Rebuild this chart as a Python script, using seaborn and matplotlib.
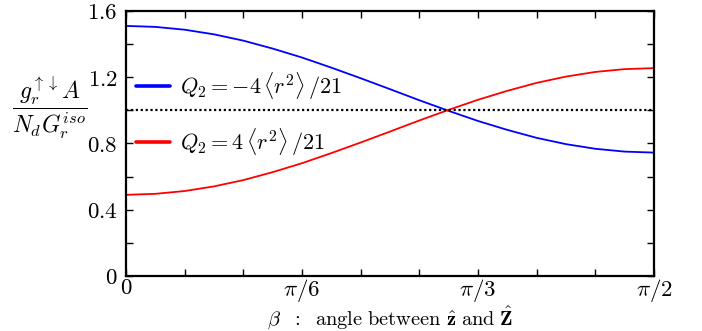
import matplotlib
matplotlib.use("Agg")
import matplotlib.pyplot as plt
import numpy as np
import pandas as pd
import seaborn as sns
from matplotlib.ticker import MultipleLocator

# beta in degrees
beta_deg = [0, 5, 10, 15, 20, 25, 30, 35, 40, 45, 50, 55, 60, 65, 70, 75, 80, 85, 90]
g_neg_q2 = [1.510, 1.504, 1.487, 1.459, 1.421, 1.373, 1.319, 1.258, 1.194, 1.128,
            1.061, 0.997, 0.936, 0.882, 0.834, 0.796, 0.768, 0.751, 0.745]
g_pos_q2 = [0.490, 0.496, 0.513, 0.541, 0.579, 0.627, 0.681, 0.742, 0.806, 0.872,
            0.939, 1.003, 1.064, 1.118, 1.166, 1.204, 1.232, 1.249, 1.255]
series_labels = [r"$Q_2=-4\,\langle r^2\rangle\,/21$", r"$Q_2=4\,\langle r^2\rangle\,/21$"]
series_colors = ["#0000ff", "#ff0000"]
x_tick_vals = [0, 30, 60, 90]
x_tick_labels = [r"$0$", r"$\pi/6$", r"$\pi/3$", r"$\pi/2$"]
y_tick_vals = [0, 0.4, 0.8, 1.2, 1.6]

sns.set_style("ticks")
plt.rcParams["mathtext.fontset"] = "cm"
plt.rcParams["font.family"] = ["DejaVu Serif"]
for key in ["text.color", "axes.labelcolor", "xtick.color", "ytick.color", "axes.edgecolor"]:
    plt.rcParams[key] = "black"

df = pd.DataFrame({
    "beta": beta_deg * 2,
    "g": g_neg_q2 + g_pos_q2,
    "series": [series_labels[0]] * len(beta_deg) + [series_labels[1]] * len(beta_deg),
})

fig = plt.figure(figsize=(7.02, 3.31), dpi=100)
ax = fig.add_axes([0.1795, 0.1662, 0.7521, 0.8006])

sns.lineplot(data=df, x="beta", y="g", hue="series", hue_order=series_labels,
             palette=series_colors, linewidth=1.3, ax=ax, legend=False)
ax.axhline(1.0, color="black", linestyle=(0, (1, 1.2)), linewidth=1.6)

ax.set_xlim(0, 90)
ax.set_ylim(0, 1.6)
ax.set_xticks(x_tick_vals)
ax.set_xticklabels(x_tick_labels)
ax.xaxis.set_minor_locator(MultipleLocator(10))
ax.set_yticks(y_tick_vals)
ax.set_yticklabels([rf"${v:g}$" for v in y_tick_vals])
ax.yaxis.set_minor_locator(MultipleLocator(0.2))
ax.tick_params(which="both", direction="in", top=True, right=True, length=5, width=1,
               labelsize=16.5, colors="black")
ax.tick_params(axis="x", pad=1)
ax.tick_params(axis="y", pad=6)
for sp in ax.spines.values():
    sp.set_linewidth(1.6)
    sp.set_color("black")
    sp.set_visible(True)

ax.set_xlabel(r"$\beta\ \ :\ \ \mathrm{angle\ between}\ \hat{\mathbf{z}}\ \mathrm{and}\ \hat{\mathbf{Z}}$",
              fontsize=14.7, labelpad=0)
ax.set_ylabel(r"$\dfrac{g_r^{\uparrow\downarrow}A}{N_dG_r^{iso}}$", fontsize=17, rotation=0)
ax.yaxis.set_label_coords(-0.145, 0.63)
ax.yaxis.label.set_verticalalignment("center")
ax.yaxis.label.set_horizontalalignment("center")

handles = [plt.Line2D([], [], color=c, linewidth=2.6) for c in series_colors]
ax.legend(handles, series_labels, loc="center left", bbox_to_anchor=(0.019, 0.611),
          frameon=False, fontsize=16, handlelength=1.55, handletextpad=0.45,
          labelspacing=1.1, borderpad=0, borderaxespad=0)

fig.savefig("out.png", dpi=100)
